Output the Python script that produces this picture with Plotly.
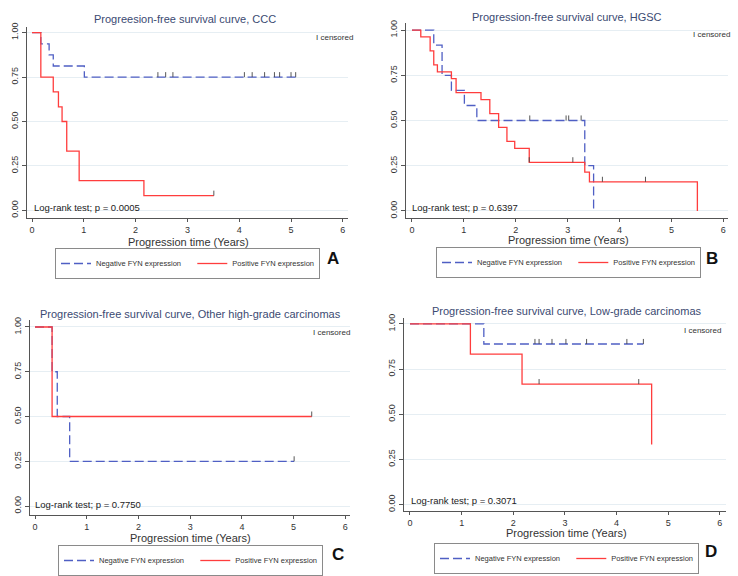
import plotly.graph_objects as go

# ---------------- data ----------------
# Panel A: CCC
a_neg_t = [0, 0.17, 0.33, 0.41, 1.01, 5.09]
a_neg_s = [1.0, 0.9375, 0.875, 0.8125, 0.75, 0.75]
a_neg_ct = [2.43, 2.58, 2.72, 4.10, 4.25, 4.49, 4.68, 4.78, 5.00, 5.09]
a_neg_cs = [0.75] * 10
a_pos_t = [0, 0.17, 0.41, 0.51, 0.58, 0.67, 0.91, 2.16, 3.51]
a_pos_s = [1.0, 0.75, 0.667, 0.583, 0.5, 0.333, 0.167, 0.083, 0.083]
a_pos_ct = [3.51]
a_pos_cs = [0.083]

# Panel B: HGSC
b_neg_t = [0, 0.42, 0.58, 0.76, 1.01, 1.25, 3.33, 3.50]
b_neg_s = [1.0, 0.917, 0.75, 0.667, 0.583, 0.5, 0.25, 0.0]
b_neg_ct = [2.27, 2.97, 3.02, 3.26]
b_neg_cs = [0.5] * 4
b_pos_t = [0, 0.17, 0.35, 0.42, 0.49, 0.76, 0.85, 1.33, 1.50, 1.67, 1.83, 1.98,
           2.26, 3.33, 3.42, 5.50]
b_pos_s = [1.0, 0.962, 0.885, 0.808, 0.769, 0.731, 0.654, 0.615, 0.538, 0.462,
           0.385, 0.346, 0.269, 0.215, 0.161, 0.0]
b_pos_ct = [2.26, 3.10, 3.67, 4.50]
b_pos_cs = [0.269, 0.269, 0.161, 0.161]

# Panel C: Other high-grade carcinomas
c_neg_t = [0, 0.33, 0.43, 0.67, 5.01]
c_neg_s = [1.0, 0.75, 0.5, 0.25, 0.25]
c_neg_ct = [5.01]
c_neg_cs = [0.25]
c_pos_t = [0, 0.33, 5.35]
c_pos_s = [1.0, 0.5, 0.5]
c_pos_ct = [5.35]
c_pos_cs = [0.5]

# Panel D: Low-grade carcinomas
d_neg_t = [0, 1.43, 4.52]
d_neg_s = [1.0, 0.889, 0.889]
d_neg_ct = [2.42, 2.50, 2.75, 3.02, 3.42, 4.20, 4.52]
d_neg_cs = [0.889] * 7
d_pos_t = [0, 1.17, 2.17, 4.68]
d_pos_s = [1.0, 0.833, 0.667, 0.333]
d_pos_ct = [2.50, 4.43]
d_pos_cs = [0.667, 0.667]

titles = ["Progreesion-free survival curve, CCC",
          "Progression-free survival curve, HGSC",
          "Progression-free survival curve, Other high-grade carcinomas",
          "Progression-free survival curve, Low-grade carcinomas"]
pvals = ["Log-rank test; p = 0.0005", "Log-rank test; p = 0.6397",
         "Log-rank test; p = 0.7750", "Log-rank test; p = 0.3071"]
letters = ["A", "B", "C", "D"]
series_names = ["Negative FYN expression", "Positive FYN expression"]
x_ticks = [0, 1, 2, 3, 4, 5, 6]
y_ticks = [0, 0.25, 0.5, 0.75, 1.0]
y_ticktext = ["0.00", "0.25", "0.50", "0.75", "1.00"]

# ---------------- style / layout ----------------
W, H = 738, 576
BLUE = "#4f5fc4"
RED = "#ff3d3d"
FONT = "Liberation Sans"
PAD = "\u00a0" * 3  # spacing after first legend entry

panels = [
    dict(neg=(a_neg_t, a_neg_s, a_neg_ct, a_neg_cs), pos=(a_pos_t, a_pos_s, a_pos_ct, a_pos_cs),
         px=(27, 348), py=(27, 218), xr=[-0.097, 6.1], yr=[-0.043, 1.032],
         title=(185, 19), xt=(188, 242), leg=(55, 248), cens=(355, 38), lr=(32, 207), let=(333, 258)),
    dict(neg=(b_neg_t, b_neg_s, b_neg_ct, b_neg_cs), pos=(b_pos_t, b_pos_s, b_pos_ct, b_pos_cs),
         px=(406, 728), py=(23, 218), xr=[-0.115, 6.09], yr=[-0.039, 1.039],
         title=(567, 17), xt=(568, 239.5), leg=(436, 247), cens=(732, 34), lr=(410, 207), let=(712, 258)),
    dict(neg=(c_neg_t, c_neg_s, c_neg_ct, c_neg_cs), pos=(c_pos_t, c_pos_s, c_pos_ct, c_pos_cs),
         px=(30, 350), py=(320, 515), xr=[-0.097, 6.09], yr=[-0.05, 1.039],
         title=(190, 314), xt=(190, 537.5), leg=(58, 545), cens=(352, 332), lr=(33, 504), let=(338, 554)),
    dict(neg=(d_neg_t, d_neg_s, d_neg_ct, d_neg_cs), pos=(d_pos_t, d_pos_s, d_pos_ct, d_pos_cs),
         px=(404, 726), py=(318, 511), xr=[-0.116, 6.12], yr=[-0.036, 1.033],
         title=(566, 311), xt=(566, 533), leg=(434, 543), cens=(723, 330), lr=(409, 500), let=(711, 551)),
]

fig = go.Figure()
annotations = []
layout = {}

for i, p in enumerate(panels):
    k = "" if i == 0 else str(i + 1)
    xa, ya = "x" + k, "y" + k
    lg = "legend" + k
    for key, color, dash, name in [("neg", BLUE, "9px,4px", series_names[0] + PAD),
                                   ("pos", RED, "solid", series_names[1])]:
        t, s, ct, cs = p[key]
        fig.add_trace(go.Scatter(x=t, y=s, mode="lines", line=dict(color=color, width=1.3, dash=dash, shape="hv"),
                                 name=name, xaxis=xa, yaxis=ya, legend=lg, showlegend=True, hoverinfo="skip"))
        fig.add_trace(go.Scatter(x=ct, y=cs, mode="markers", marker=dict(size=1, color=color, opacity=0),
                                 error_y=dict(type="data", symmetric=False, array=[0.028] * len(ct),
                                              arrayminus=[0] * len(ct), width=0, color="#444", thickness=0.9),
                                 xaxis=xa, yaxis=ya, showlegend=False, hoverinfo="skip"))
    x0, x1 = p["px"]
    y0, y1 = p["py"]
    layout["xaxis" + k] = dict(domain=[x0 / W, x1 / W], range=p["xr"], anchor=ya,
                               tickvals=x_ticks, ticks="outside", ticklen=3, tickcolor="#555",
                               showline=True, linecolor="#555", linewidth=1, showgrid=False, zeroline=False,
                               tickfont=dict(size=9, color="#333", family=FONT))
    layout["yaxis" + k] = dict(domain=[1 - y1 / H, 1 - y0 / H], range=p["yr"], anchor=xa,
                               tickvals=y_ticks, ticktext=y_ticktext, tickangle=-90,
                               ticks="outside", ticklen=4, tickcolor="#555",
                               showline=True, linecolor="#555", linewidth=1,
                               showgrid=True, gridcolor="#e6eef3", gridwidth=1, zeroline=False,
                               tickfont=dict(size=9, color="#333", family=FONT))
    layout[lg] = dict(x=p["leg"][0] / W, y=1 - p["leg"][1] / H, xanchor="left", yanchor="top",
                      orientation="h", bordercolor="#8a8a8a", borderwidth=1, bgcolor="white",
                      font=dict(size=7.5, color="#333", family=FONT),
                      tracegroupgap=0, itemwidth=30)
    annotations += [
        dict(text=titles[i], x=p["title"][0] / W, y=1 - p["title"][1] / H, xref="paper", yref="paper",
             showarrow=False, xanchor="center", yanchor="middle",
             font=dict(size=11, color="#3b4a72", family=FONT)),
        dict(text="Progression time (Years)", x=p["xt"][0] / W, y=1 - p["xt"][1] / H, xref="paper", yref="paper",
             showarrow=False, xanchor="center", yanchor="middle",
             font=dict(size=11, color="#333", family=FONT)),
        dict(text="I censored", x=p["cens"][0] / W, y=1 - p["cens"][1] / H, xref="paper", yref="paper",
             showarrow=False, xanchor="right", yanchor="middle",
             font=dict(size=8, color="#333", family=FONT)),
        dict(text=pvals[i], x=p["lr"][0] / W, y=1 - p["lr"][1] / H, xref="paper", yref="paper",
             showarrow=False, xanchor="left", yanchor="middle",
             font=dict(size=9.5, color="#222", family=FONT)),
        dict(text="<b>" + letters[i] + "</b>", x=p["let"][0] / W, y=1 - p["let"][1] / H, xref="paper",
             yref="paper", showarrow=False, xanchor="center", yanchor="middle",
             font=dict(size=17, color="#111", family=FONT)),
    ]

fig.update_layout(width=W, height=H, margin=dict(l=0, r=0, t=0, b=0, autoexpand=False),
                  paper_bgcolor="white", plot_bgcolor="white",
                  annotations=annotations, **layout)
fig.write_html("out.html", config={"displayModeBar": False},
               post_script="document.body.style.margin='0';")
